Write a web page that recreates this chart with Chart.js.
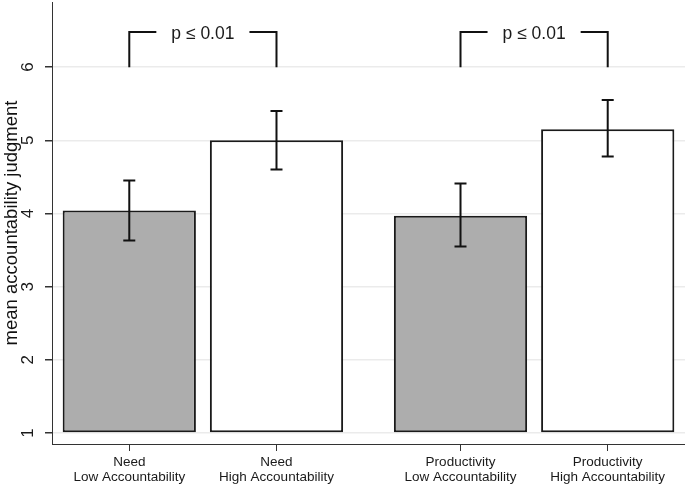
<!DOCTYPE html>
<html>
<head>
<meta charset="utf-8">
<script src="https://cdn.jsdelivr.net/npm/chart.js@4"></script>
<style>
  body { margin: 0; background: #fff; }
  canvas { display: block; }
</style>
</head>
<body>
<canvas id="chart" width="685" height="485"></canvas>
<script>
// data
const groups = ['Need', 'Productivity'];
const conditions = ['Low Accountability', 'High Accountability'];
const means = [4.04, 5.0, 3.97, 5.15];
const ciLow = [3.63, 4.6, 3.55, 4.78];
const ciHigh = [4.45, 5.4, 4.41, 5.55];
const yTicks = [1, 2, 3, 4, 5, 6];
const pLabel = 'p \u2264 0.01';
const pHeight = 6.48;

const font = 'Liberation Sans, Arial, sans-serif';
const groupGap = 1.25; // spacing between groups in bar units

// x position of each bar: within-group index + group offset
const labels = [];
const points = [];
groups.forEach((g, gi) => {
  conditions.forEach((c, ci) => {
    const k = gi * conditions.length + ci;
    const x = gi * (conditions.length - 1 + groupGap) + ci;
    labels.push({ x: x, text: [g, c] });
    points.push({ x: x, y: means[k] });
  });
});

const errorBars = {
  id: 'errorBars',
  afterDatasetsDraw(chart) {
    const { ctx, scales: { x, y } } = chart;
    ctx.save();
    ctx.strokeStyle = '#111';
    ctx.lineWidth = 2;
    points.forEach((p, i) => {
      const px = x.getPixelForValue(p.x);
      const top = y.getPixelForValue(ciHigh[i]);
      const bot = y.getPixelForValue(ciLow[i]);
      ctx.beginPath();
      ctx.moveTo(px, top); ctx.lineTo(px, bot);
      ctx.moveTo(px - 6, top); ctx.lineTo(px + 6, top);
      ctx.moveTo(px - 6, bot); ctx.lineTo(px + 6, bot);
      ctx.stroke();
    });
    // significance brackets over each group
    ctx.font = '17.5px ' + font;
    ctx.fillStyle = '#1a1a1a';
    ctx.textAlign = 'center';
    ctx.textBaseline = 'alphabetic';
    groups.forEach((g, gi) => {
      const a = points[gi * 2], b = points[gi * 2 + 1];
      const xa = x.getPixelForValue(a.x);
      const xb = x.getPixelForValue(b.x);
      const yTop = y.getPixelForValue(pHeight);
      const yBot = y.getPixelForValue(6);
      const mid = (xa + xb) / 2;
      const half = ctx.measureText(pLabel).width / 2 + 15;
      ctx.beginPath();
      ctx.moveTo(xa, yBot); ctx.lineTo(xa, yTop); ctx.lineTo(mid - half, yTop);
      ctx.moveTo(mid + half, yTop); ctx.lineTo(xb, yTop); ctx.lineTo(xb, yBot);
      ctx.stroke();
      ctx.fillText(pLabel, mid, yTop + 6.5);
    });
    ctx.restore();
  }
};

new Chart(document.getElementById('chart'), {
  type: 'bar',
  data: {
    datasets: [{
      data: points,
      base: 1,
      backgroundColor: ['#adadad', '#ffffff', '#adadad', '#ffffff'],
      borderColor: '#1a1a1a',
      borderWidth: 2,
      borderSkipped: false,
      categoryPercentage: 1,
      barPercentage: 0.905
    }]
  },
  options: {
    responsive: false,
    animation: false,
    layout: { padding: { top: 2, left: 0, right: 0, bottom: 0 } },
    plugins: { legend: { display: false }, tooltip: { enabled: false } },
    scales: {
      x: {
        type: 'linear',
        offset: false,
        min: -0.525,
        max: 3.775,
        afterBuildTicks: (s) => { s.ticks = labels.map(l => ({ value: l.x })); },
        afterFit: (s) => { s.height = 41; s.paddingLeft = 0; s.paddingRight = 0; },
        ticks: {
          autoSkip: false,
          maxRotation: 0,
          color: '#1a1a1a',
          font: { family: font, size: 13.5, lineHeight: 1.1 },
          padding: 4,
          callback: (v) => { const l = labels.find(q => q.x === v); return l ? l.text : ''; }
        },
        grid: { offset: false, drawOnChartArea: false, drawTicks: true, tickLength: 7, tickColor: '#333', lineWidth: 1 },
        border: { color: '#333', width: 1 }
      },
      y: {
        min: 0.85,
        max: 6.89,
        afterBuildTicks: (s) => { s.ticks = yTicks.map(v => ({ value: v })); },
        afterFit: (s) => { s.width = 52; s.paddingTop = 0; s.paddingBottom = 0; },
        ticks: {
          color: '#1a1a1a',
          font: { family: font, size: 17 },
          minRotation: 90,
          maxRotation: 90,
          crossAlign: 'center',
          padding: 12
        },
        grid: { color: '#ebebeb', lineWidth: 1.5, tickLength: 7, tickColor: '#333' },
        border: { color: '#333', width: 1 },
        title: {
          display: true,
          text: 'mean accountability judgment',
          color: '#111',
          font: { family: font, size: 18.5 },
          padding: { top: 1, bottom: 0 }
        }
      }
    }
  },
  plugins: [errorBars]
});
</script>
</body>
</html>
